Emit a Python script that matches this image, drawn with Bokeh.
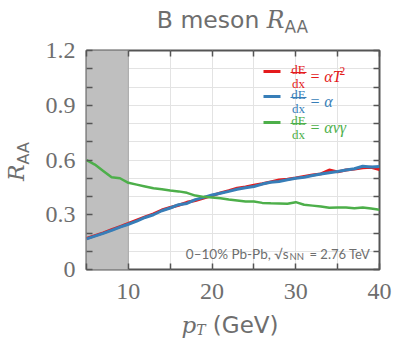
from bokeh.plotting import figure
from bokeh.models import FixedTicker, LinearAxis, Label, Range1d, CustomJSTickFormatter, Div
from bokeh.layouts import column, row
from bokeh.embed import file_html
from bokeh.resources import INLINE

# ---------------- data ----------------
pt = [5, 6, 7, 8, 9, 10, 11, 12, 13, 14, 15, 16, 17, 18, 19, 20, 21, 22,
      23, 24, 25, 26, 27, 28, 29, 30, 31, 32, 33, 34, 35, 36, 37, 38, 39, 40]
raa_T2 = [0.170, 0.186, 0.201, 0.218, 0.235, 0.252, 0.270, 0.288, 0.305, 0.326,
          0.340, 0.352, 0.368, 0.378, 0.392, 0.405, 0.420, 0.432, 0.445, 0.452,
          0.462, 0.470, 0.480, 0.490, 0.495, 0.502, 0.510, 0.518, 0.524, 0.545,
          0.535, 0.545, 0.550, 0.558, 0.560, 0.548]
raa_const = [0.168, 0.183, 0.198, 0.214, 0.232, 0.248, 0.265, 0.285, 0.300, 0.322,
             0.337, 0.355, 0.362, 0.383, 0.395, 0.408, 0.418, 0.428, 0.440, 0.448,
             0.455, 0.468, 0.478, 0.482, 0.492, 0.500, 0.505, 0.515, 0.523, 0.530,
             0.537, 0.545, 0.552, 0.566, 0.562, 0.565]
raa_vgamma = [0.600, 0.575, 0.540, 0.505, 0.500, 0.475, 0.465, 0.455, 0.445, 0.440,
              0.433, 0.428, 0.420, 0.405, 0.398, 0.395, 0.390, 0.383, 0.378, 0.372,
              0.372, 0.365, 0.363, 0.362, 0.360, 0.369, 0.355, 0.350, 0.345, 0.338,
              0.340, 0.340, 0.336, 0.340, 0.334, 0.328]
shade_lo = [5]
shade_hi = [10]
x_ticks = [10, 20, 30, 40]
x_minor = [5, 15, 25, 35]
y_ticks = [0, 0.3, 0.6, 0.9, 1.2]
y_minor = [0.1, 0.2, 0.4, 0.5, 0.7, 0.8, 1.0, 1.1]

# ---------------- layout ----------------
W, H = 394, 339
FL, FR, FT, FB = 86, 379, 50, 269        # frame edges in page pixels
XMIN, XMAX, YMIN, YMAX = 5, 40, 0, 1.2
TITLE_H, XLAB_H, YLAB_W = 32, 25, 40

def dx(px):
    return XMIN + (px - FL) * (XMAX - XMIN) / (FR - FL)

def dy(py):
    return YMIN + (FB - py) * (YMAX - YMIN) / (FB - FT)

RED, BLUE, GREEN = "#e41a1c", "#377eb8", "#4daf4a"
GREY = "#6e6e6e"
FRAME = "#555555"

p = figure(width=W - YLAB_W, height=H - TITLE_H - XLAB_H,
           x_range=Range1d(XMIN, XMAX), y_range=Range1d(YMIN, YMAX),
           output_backend="svg", toolbar_location=None,
           min_border_left=FL - YLAB_W, min_border_right=W - FR,
           min_border_top=FT - TITLE_H, min_border_bottom=(H - XLAB_H) - FB)
p.margin = 0
p.outline_line_color = FRAME
p.outline_line_width = 2
p.background_fill_color = "white"
p.border_fill_color = "white"

xt = FixedTicker(ticks=x_ticks, minor_ticks=x_minor)
yt = FixedTicker(ticks=y_ticks, minor_ticks=y_minor)

def style_axis(ax, show_labels):
    ax.axis_line_color = None
    ax.major_tick_in = 6
    ax.major_tick_out = 0
    ax.minor_tick_in = 6
    ax.minor_tick_out = 0
    ax.major_tick_line_color = FRAME
    ax.minor_tick_line_color = FRAME
    ax.major_tick_line_width = 1.5
    ax.minor_tick_line_width = 1.5
    if show_labels:
        ax.major_label_text_font = "Liberation Serif"
        ax.major_label_text_font_size = "24px"
        ax.major_label_text_color = GREY
    else:
        ax.formatter = CustomJSTickFormatter(code="return '';")
        ax.major_label_standoff = 0

p.xaxis.ticker = xt
p.yaxis.ticker = yt
p.yaxis.formatter = CustomJSTickFormatter(code="return tick === 0 ? '0' : tick.toFixed(1);")
style_axis(p.xaxis[0], True)
style_axis(p.yaxis[0], True)
p.xaxis.major_label_standoff = 14
p.yaxis.major_label_standoff = 11

top = LinearAxis(ticker=xt)
style_axis(top, False)
p.add_layout(top, "above")
right = LinearAxis(ticker=yt)
style_axis(right, False)
p.add_layout(right, "right")

for g in (p.xgrid[0], p.ygrid[0]):
    g.grid_line_color = "#e3e3e3"
    g.minor_grid_line_color = "#e3e3e3"
    g.grid_line_width = 1
    g.minor_grid_line_width = 1
p.xgrid.ticker = xt
p.ygrid.ticker = yt

# shaded (excluded) region
p.quad(left=shade_lo, right=shade_hi, bottom=[YMIN], top=[YMAX],
       fill_color="#bfbfbf", line_color="#a8a8a8", line_width=1)

# curves
p.line(pt, raa_T2, line_color=RED, line_width=3)
p.line(pt, raa_const, line_color=BLUE, line_width=3)
p.line(pt, raa_vgamma, line_color=GREEN, line_width=2.5)

def lab(X, Y, text, size, color=GREY, font="DejaVu Sans", style="normal",
        align="left", baseline="alphabetic"):
    p.add_layout(Label(x=dx(X), y=dy(Y), text=text, text_font=font,
                       text_font_size=f"{size}px", text_color=color,
                       text_font_style=style, text_align=align,
                       text_baseline=baseline))

# legend (drawn by hand: fraction labels)
legend_rows = [(71, RED, "= αT", "2"), (96, BLUE, "= α", ""), (122, GREEN, "= αvγ", "")]
for (yy, col, rhs, sup) in legend_rows:
    p.segment(x0=[dx(263)], y0=[dy(yy)], x1=[dx(280)], y1=[dy(yy)], line_color=col, line_width=3)
    lab(298, yy - 2.5, "dE", 13, color=col, font="Liberation Serif", align="center")
    p.segment(x0=[dx(290)], y0=[dy(yy + 1)], x1=[dx(306)], y1=[dy(yy + 1)], line_color=col, line_width=1)
    lab(298, yy + 11.5, "dx", 13, color=col, font="Liberation Serif", align="center")
    lab(309, yy + 5, rhs, 16, color=col, font="Liberation Serif", style="italic")
    if sup:
        lab(339, yy - 1, sup, 11.5, color=col, font="Liberation Serif")

# annotation
lab(288, 253, "0–10% Pb-Pb, √s", 13.5, font="Lato", align="right")
lab(289, 256, "NN", 9.5, font="Lato")
lab(309, 253, "= 2.76 TeV", 13, font="Lato")

# ---------------- rich-text labels outside the frame ----------------
title_div = Div(width=W, height=TITLE_H, margin=0, text=(
    f'<div style="width:{W}px;height:{TITLE_H}px;box-sizing:border-box;'
    f'padding:9px {W - FR}px 0 {FL}px;text-align:center;white-space:nowrap;'
    f'color:{GREY};line-height:1;">'
    '<span style="font-family:\'DejaVu Sans\';font-size:23.5px;">B meson </span>'
    '<span style="font-family:\'DejaVu Serif\';font-style:italic;font-size:23.5px;">R</span>'
    '<span style="font-family:\'DejaVu Sans\';font-size:17px;position:relative;top:5px;">AA</span>'
    '</div>'))

ylab_h = H - TITLE_H - XLAB_H
ylab_div = Div(width=YLAB_W, height=ylab_h, margin=0, text=(
    f'<div style="position:relative;width:{YLAB_W}px;height:{ylab_h}px;">'
    f'<div style="position:absolute;left:6px;top:{181 - TITLE_H}px;transform:rotate(-90deg);'
    f'transform-origin:0 0;white-space:nowrap;line-height:1;color:{GREY};">'
    '<span style="font-family:\'DejaVu Serif\';font-style:italic;font-size:22px;">R</span>'
    '<span style="font-family:\'DejaVu Sans\';font-size:16px;position:relative;top:5px;">AA</span>'
    '</div></div>'))

xlab_div = Div(width=W, height=XLAB_H, margin=0, text=(
    f'<div style="width:{W}px;height:{XLAB_H}px;box-sizing:border-box;'
    f'padding:0 20px 0 {FL}px;text-align:center;white-space:nowrap;'
    f'color:{GREY};line-height:1;">'
    '<span style="font-family:\'DejaVu Serif\';font-style:italic;font-size:23px;">p</span>'
    '<span style="font-family:\'DejaVu Serif\';font-style:italic;font-size:14px;position:relative;top:2px;">T</span>'
    '<span style="font-family:\'DejaVu Sans\';font-size:23px;"> (GeV)</span>'
    '</div>'))

layout = column(title_div, row(ylab_div, p, spacing=0, margin=0), xlab_div, spacing=0, margin=0)

open("out.html", "w").write(file_html(layout, INLINE))
